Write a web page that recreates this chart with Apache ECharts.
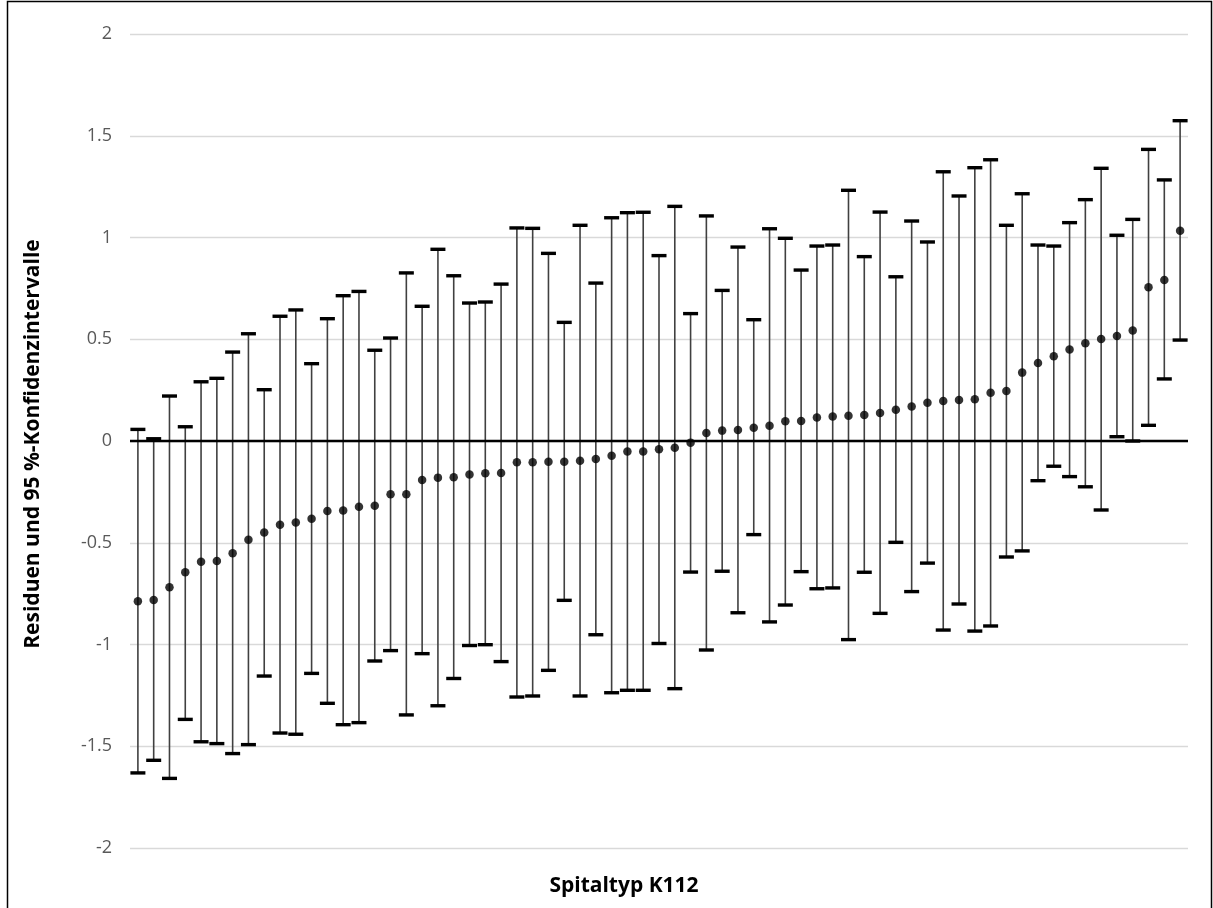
<!DOCTYPE html>
<html>
<head>
<meta charset="utf-8">
<script src="https://cdn.jsdelivr.net/npm/echarts@6/dist/echarts.min.js"></script>
<style>
html,body{margin:0;padding:0;background:#fff;}
#chart{width:1213px;height:908px;}
</style>
</head>
<body>
<div id="chart"></div>
<script>
// Residuals (points)
var residuals = [-0.788,-0.781,-0.719,-0.645,-0.593,-0.590,-0.552,-0.485,-0.450,-0.411,
-0.400,-0.382,-0.344,-0.341,-0.323,-0.318,-0.262,-0.262,-0.192,-0.180,
-0.178,-0.165,-0.159,-0.157,-0.105,-0.105,-0.102,-0.102,-0.097,-0.088,
-0.072,-0.052,-0.052,-0.041,-0.033,-0.008,0.039,0.051,0.054,0.065,
0.075,0.097,0.098,0.115,0.120,0.124,0.128,0.138,0.154,0.169,
0.188,0.197,0.201,0.205,0.237,0.246,0.336,0.383,0.416,0.450,
0.480,0.501,0.516,0.543,0.755,0.791,1.033];
// Upper 95% CI
var upper = [0.057,0.011,0.221,0.070,0.291,0.308,0.437,0.527,0.252,0.613,
0.644,0.380,0.601,0.714,0.735,0.446,0.506,0.826,0.662,0.942,
0.812,0.678,0.683,0.771,1.047,1.045,0.922,0.583,1.060,0.776,
1.097,1.122,1.124,0.911,1.153,0.626,1.106,0.740,0.953,0.596,
1.043,0.996,0.840,0.958,0.963,1.232,0.906,1.125,0.807,1.081,
0.978,1.323,1.204,1.343,1.382,1.060,1.215,0.963,0.958,1.073,
1.186,1.340,1.011,1.089,1.433,1.283,1.574];
// Lower 95% CI
var lower = [-1.631,-1.569,-1.658,-1.368,-1.478,-1.487,-1.536,-1.492,-1.155,-1.435,
-1.441,-1.142,-1.289,-1.394,-1.384,-1.081,-1.030,-1.346,-1.045,-1.301,
-1.167,-1.005,-1.001,-1.084,-1.258,-1.253,-1.127,-0.783,-1.253,-0.952,
-1.237,-1.225,-1.225,-0.995,-1.217,-0.644,-1.027,-0.640,-0.844,-0.460,
-0.889,-0.806,-0.642,-0.726,-0.722,-0.976,-0.645,-0.847,-0.498,-0.740,
-0.600,-0.929,-0.801,-0.934,-0.909,-0.570,-0.540,-0.195,-0.124,-0.175,
-0.225,-0.339,0.021,0.000,0.077,0.305,0.496];
var yTicks = [-2,-1.5,-1,-0.5,0,0.5,1,1.5,2];
var categories = residuals.map(function(_, i){ return String(i + 1); });
var xTitle = 'Spitaltyp K112';
var yTitle = 'Residuen und 95 %-Konfidenzintervalle';

var ciData = categories.map(function(c, i){ return [i, lower[i], upper[i]]; });

var chart = echarts.init(document.getElementById('chart'), null, {renderer:'canvas'});
chart.setOption({
  animation: false,
  backgroundColor: '#fff',
  grid: {left:130, right:25, top:34, bottom:60, containLabel:false},
  xAxis: {
    type:'category', data: categories,
    axisLine:{show:false, onZero:false}, axisTick:{show:false}, axisLabel:{show:false},
    splitLine:{show:false}
  },
  yAxis: {
    type:'value', min:yTicks[0], max:yTicks[yTicks.length-1], interval:0.5,
    axisLine:{show:false}, axisTick:{show:false},
    axisLabel:{color:'#595959', fontSize:18, fontFamily:'Open Sans', margin:18,
      formatter:function(v){ return String(v); }},
    splitLine:{lineStyle:{color:'#d9d9d9', width:1.3}}
  },
  graphic: [
    {type:'rect', shape:{x:7.5, y:1.5, width:1204, height:920}, style:{fill:null, stroke:'#000', lineWidth:1.5}, silent:true},
    {type:'text', x:624, y:886, style:{text:xTitle, font:'bold 21px "Open Sans"', fill:'#000', textAlign:'center', textVerticalAlign:'middle'}},
    {type:'text', x:33, y:444, rotation:Math.PI/2, style:{text:yTitle, font:'bold 21px "Open Sans"', fill:'#000', textAlign:'center', textVerticalAlign:'middle'}}
  ],
  series: [
    {
      type:'custom',
      data: ciData,
      encode:{x:0, y:[1,2]},
      z:3,
      renderItem: function(params, api){
        var x = api.value(0);
        var lo = api.coord([x, api.value(1)]);
        var hi = api.coord([x, api.value(2)]);
        var hw = 7.5;
        return {type:'group', children:[
          {type:'line', shape:{x1:lo[0], y1:lo[1], x2:hi[0], y2:hi[1]}, style:{stroke:'#404040', lineWidth:1.6}},
          {type:'line', shape:{x1:lo[0]-hw, y1:lo[1], x2:lo[0]+hw, y2:lo[1]}, style:{stroke:'#000', lineWidth:3.4}},
          {type:'line', shape:{x1:hi[0]-hw, y1:hi[1], x2:hi[0]+hw, y2:hi[1]}, style:{stroke:'#000', lineWidth:3.4}}
        ]};
      }
    },
    {
      type:'scatter',
      data: residuals,
      symbol:'circle', symbolSize:8.5,
      itemStyle:{color:'#000'},
      z:4,
      markLine:{
        silent:true, symbol:['none','none'], label:{show:false},
        lineStyle:{color:'#000', width:2.4, type:'solid'},
        data:[{yAxis:0}]
      }
    }
  ]
});
</script>
</body>
</html>
